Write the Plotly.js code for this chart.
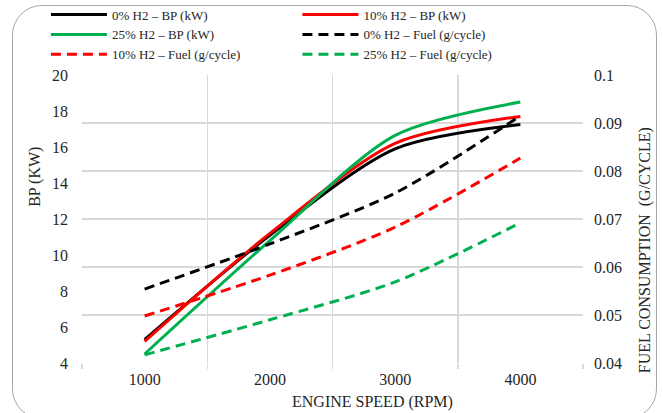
<!DOCTYPE html>
<html>
<head>
<meta charset="utf-8">
<script src="https://cdn.plot.ly/plotly-3.0.1.min.js"></script>
<style>
html,body{margin:0;padding:0;background:#fff;}
#wrap{position:relative;width:663px;height:413px;overflow:hidden;}
#frame{position:absolute;left:12px;top:5px;width:645px;height:414px;border:1.5px solid #A6A6A6;border-radius:30px;box-sizing:border-box;pointer-events:none;}
#chart{position:absolute;left:0;top:0;width:663px;height:413px;}
</style>
</head>
<body>
<div id="wrap"><div id="chart"></div><div id="frame"></div></div>
<script>
const rpm = [1000, 2000, 3000, 4000];
const bp0 = [5.3, 11.1, 15.9, 17.25];
const bp10 = [5.2, 11.2, 16.2, 17.7];
const bp25 = [4.5, 10.8, 16.65, 18.5];
const fuel0 = [0.0554, 0.0648, 0.0754, 0.0915];
const fuel10 = [0.0498, 0.0583, 0.0683, 0.0827];
const fuel25 = [0.0417, 0.0490, 0.0569, 0.0692];
const names = ['0% H2 – BP (kW)', '10% H2 – BP (kW)', '25% H2 – BP (kW)',
  '0% H2 – Fuel (g/cycle)', '10% H2 – Fuel (g/cycle)', '25% H2 – Fuel (g/cycle)'];
const colors = ['#000000', '#FF0000', '#00B050'];
// legend column for each trace (left column / right column as in the reference)
const legendOf = ['legend', 'legend2', 'legend', 'legend2', 'legend', 'legend2'];

const font = '"Liberation Serif", "Times New Roman", serif';
const txt = '#262626';

function tr(y, i, axis, dash) {
  return {x: rpm, y: y, name: names[i], yaxis: axis, type: 'scatter', mode: 'lines',
    legend: legendOf[i],
    line: {color: colors[i % 3], width: 3, shape: 'spline', smoothing: 0.8, dash: dash}};
}
const dsh = '10px,6px';
const data = [
  tr(bp0, 0, 'y', 'solid'),
  tr(bp10, 1, 'y', 'solid'),
  tr(bp25, 2, 'y', 'solid'),
  tr(fuel0, 3, 'y2', dsh),
  tr(fuel10, 4, 'y2', dsh),
  tr(fuel25, 5, 'y2', dsh)
];

const legFont = {family: font, size: 13, color: txt};
const legBase = {orientation: 'v', y: 1.262,
  xanchor: 'left', yanchor: 'top', itemwidth: 56, font: legFont, bgcolor: 'rgba(0,0,0,0)',
  tracegroupgap: 0, borderwidth: 0};

const layout = {
  width: 663, height: 413,
  margin: {l: 82, r: 80, t: 75, b: 50, autoexpand: false},
  paper_bgcolor: 'rgba(0,0,0,0)', plot_bgcolor: 'rgba(0,0,0,0)',
  font: {family: font, size: 16, color: txt},
  showlegend: true,
  legend: Object.assign({}, legBase, {x: -0.072}),
  legend2: Object.assign({}, legBase, {x: 0.43}),
  xaxis: {range: [500, 4500], tickvals: rpm, ticktext: rpm.map(String), showgrid: false,
    zeroline: false, showline: false, ticks: '', ticklabelstandoff: 5,
    tickfont: {family: font, size: 16, color: txt},
    minor: {tickvals: [500, 1500, 2500, 3500, 4500], showgrid: true, gridcolor: '#D9D9D9', gridwidth: 1.5,
      ticks: 'outside', ticklen: 5, tickcolor: '#D9D9D9', tickwidth: 1.5}},
  yaxis: {range: [4, 20], dtick: 2, tick0: 4, showgrid: false, zeroline: false, showline: false,
    ticks: '', ticklabelstandoff: 13, tickfont: {family: font, size: 16, color: txt}},
  yaxis2: {range: [0.04, 0.1], dtick: 0.01, tick0: 0.04, overlaying: 'y', side: 'right',
    showgrid: true, gridcolor: '#D9D9D9', gridwidth: 1.5, zeroline: false, showline: false,
    ticks: '', ticklabelstandoff: 10, tickfont: {family: font, size: 16, color: txt}},
  annotations: [
    {text: 'ENGINE SPEED (RPM)', xref: 'paper', yref: 'paper', x: 0.579, y: -0.135,
      showarrow: false, font: {family: font, size: 16, color: txt}, xanchor: 'center', yanchor: 'middle'},
    {text: 'BP (KW)', xref: 'paper', yref: 'paper', x: -0.094, y: 0.646, textangle: -90,
      showarrow: false, font: {family: font, size: 16, color: txt}, xanchor: 'center', yanchor: 'middle'},
    {text: 'FUEL CONSUMPTION&nbsp; (G/CYCLE)', xref: 'paper', yref: 'paper', x: 1.124, y: 0.392, textangle: -90,
      showarrow: false, font: {family: font, size: 16, color: txt}, xanchor: 'center', yanchor: 'middle'}
  ]
};
Plotly.newPlot('chart', data, layout, {displayModeBar: false, staticPlot: true});
</script>
</body>
</html>
